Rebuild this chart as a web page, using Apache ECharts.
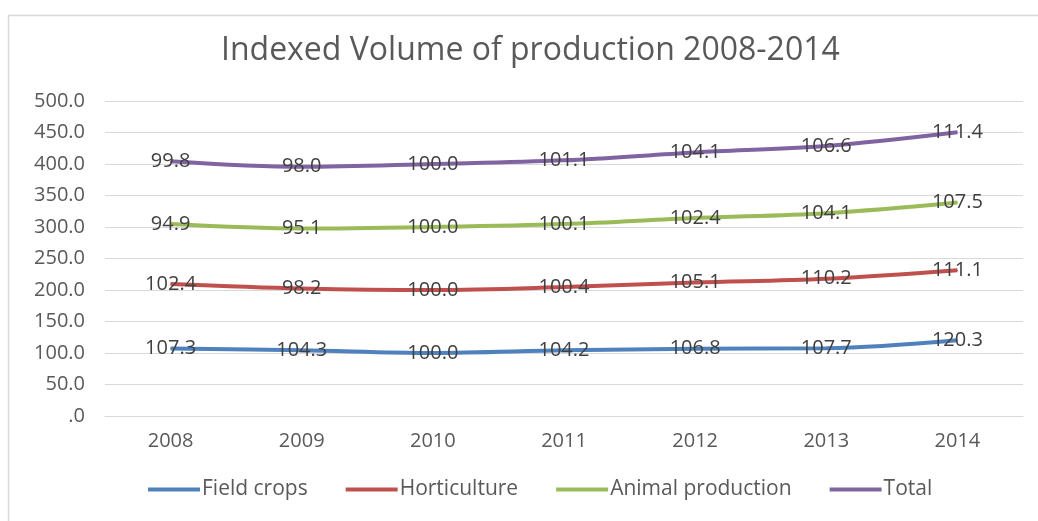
<!DOCTYPE html>
<html>
<head>
<meta charset="utf-8">
<script src="https://cdn.jsdelivr.net/npm/echarts@6/dist/echarts.min.js"></script>
<style>
html,body{margin:0;padding:0;background:#fff;}
#c{width:1038px;height:521px;}
</style>
</head>
<body>
<div id="c"></div>
<script>
const years = ['2008','2009','2010','2011','2012','2013','2014'];
const fieldCrops = [107.3, 104.3, 100.0, 104.2, 106.8, 107.7, 120.3];
const horticulture = [102.4, 98.2, 100.0, 100.4, 105.1, 110.2, 111.1];
const animalProduction = [94.9, 95.1, 100.0, 100.1, 102.4, 104.1, 107.5];
const total = [99.8, 98.0, 100.0, 101.1, 104.1, 106.6, 111.4];
const seriesNames = ['Field crops','Horticulture','Animal production','Total'];
const colors = ['#4F81BD','#C0504D','#9BBB59','#8064A2'];

const font = '"Open Sans", "Liberation Sans", sans-serif';
const chart = echarts.init(document.getElementById('c'));
function mk(name, data, color){
  return {
    name, type:'line', stack:'all', smooth:0.35, data,
    symbol:'circle', symbolSize:1, showSymbol:true,
    lineStyle:{width:4, color},
    itemStyle:{color},
    label:{show:true, position:'inside', color:'#404040', fontSize:20, fontFamily:font,
      formatter: p => Number(data[p.dataIndex]).toFixed(1)},
    emphasis:{disabled:true}
  };
}
chart.setOption({
  animation:false,
  color: colors,
  title:{text:'Indexed Volume of production 2008-2014', left:216, top:30,
    textStyle:{fontFamily:font, fontSize:32, fontWeight:'normal', color:'#595959'}},
  legend:{bottom:16, left:143, itemWidth:52, itemHeight:4, itemGap:38, icon:'rect',
    textStyle:{fontFamily:font, fontSize:21, color:'#595959', padding:[0,0,0,-3]},
    data: seriesNames},
  grid:{left:105, right:15, top:101, bottom:105},
  xAxis:{type:'category', data:years, boundaryGap:true,
    axisLine:{lineStyle:{color:'#D9D9D9'}}, axisTick:{show:false},
    axisLabel:{color:'#595959', fontSize:20, fontFamily:font, margin:15}},
  yAxis:{type:'value', min:0, max:500, interval:50,
    axisLine:{show:false}, axisTick:{show:false},
    splitLine:{lineStyle:{color:'#D9D9D9', width:1}},
    axisLabel:{color:'#595959', fontSize:20, fontFamily:font, margin:20,
      formatter: v => v === 0 ? '.0' : v.toFixed(1)}},
  graphic:[{type:'rect', shape:{x:8.5, y:15.5, width:1040, height:520}, style:{fill:'none', stroke:'#D9D9D9', lineWidth:1.5}, silent:true}],
  series:[
    mk(seriesNames[0], fieldCrops, colors[0]),
    mk(seriesNames[1], horticulture, colors[1]),
    mk(seriesNames[2], animalProduction, colors[2]),
    mk(seriesNames[3], total, colors[3])
  ]
});
</script>
</body>
</html>
